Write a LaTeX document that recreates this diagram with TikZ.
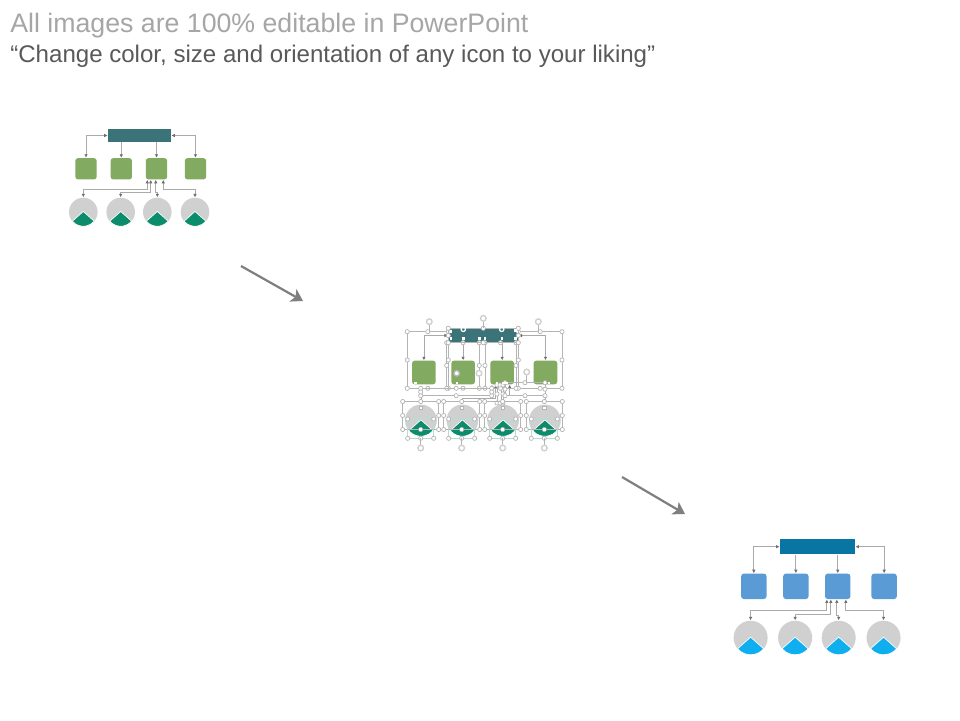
\documentclass[tikz,border=0pt]{standalone}
\usepackage{fontspec}
\setmainfont{Liberation Sans}
\usetikzlibrary{arrows.meta, calc}
\definecolor{slideGray}{RGB}{166,166,166}
\definecolor{slideDark}{RGB}{89,89,89}
\definecolor{shapeGray}{RGB}{208,208,208}
\definecolor{lineGray}{RGB}{170,170,170}
\definecolor{tipGray}{RGB}{110,110,110}
\definecolor{flowGray}{RGB}{127,127,127}
\definecolor{handleGray}{RGB}{180,180,180}
\definecolor{tealBar}{RGB}{58,116,120}
\definecolor{greenBox}{RGB}{130,170,96}
\definecolor{greenWedge}{RGB}{11,140,108}
\definecolor{blueBar}{RGB}{8,117,163}
\definecolor{blueBox}{RGB}{91,155,213}
\definecolor{blueWedge}{RGB}{15,174,239}
\tikzset{
    slide/.style={x=0.02cm, y=0.02cm},
    headbox/.style={minimum width=1.26cm, minimum height=0.26cm, inner sep=0pt, transform shape},
    itembox/.style={rounded corners=1.5pt, minimum size=0.426cm, inner sep=0pt, transform shape},
    disc/.style={circle, fill=shapeGray, minimum size=0.572cm, inner sep=0pt, transform shape},
    link/.style={{Latex[length=2pt,width=2pt,tipGray]}-{Latex[length=2pt,width=2pt,tipGray]}, line width=0.45pt, draw=lineGray},
    drop/.style={link, {}-{Latex[length=2pt,width=2pt,tipGray]}},
    flow/.style={-{Stealth[inset=1.6pt,length=6.5pt,width=8pt]}, line width=1.25pt, draw=flowGray},
    title/.style={anchor=base west, inner sep=0pt},
    selline/.style={draw=handleGray, line width=0.4pt},
    handle/.style={draw=handleGray, line width=0.4pt, fill=white},
    grip/.style={fill=white},
}
% one chart: name, centre of the bar, scale, three colours
\newcommand{\orgtree}[7]{
\begin{scope}[shift={(#2,#3)}, scale=#4]
    \node[headbox, fill=#5] (#1bar) at (0,0) {};
    \foreach \n/\x in {1/-53.5, 2/-18.2, 3/17, 4/56}{
        \node[itembox, fill=#6] (#1b\n) at (\x,-33.3) {};
    }
    \foreach \n/\x in {1/-56.2, 2/-18.8, 3/17.8, 4/55.5}{
        \node[disc] (#1c\n) at (\x,-76.5) {};
        \fill[#7, draw=white, line width=0.4pt] ($(#1c\n.center)+(0,0.5)$) -- ++(-10.95,-9.7)
            arc (220:320:14.3) -- cycle;
    }
    \draw[link] (#1bar.west) -| (#1b1.north);
    \draw[link] (#1bar.east) -| (#1b4.north);
    \draw[drop] (#1b2.north |- #1bar.south) -- (#1b2.north);
    \draw[drop] (#1b3.north |- #1bar.south) -- (#1b3.north);
    \coordinate (#1t1) at ($(#1b3.south)+(-9.2,0)$);
    \coordinate (#1t2) at ($(#1b3.south)+(-5.8,0)$);
    \coordinate (#1t3) at ($(#1b3.south)+(-0.8,0)$);
    \coordinate (#1t4) at ($(#1b3.south)+(6.8,0)$);
    \draw[link] (#1t1) -- ++(0,-9.3) -| (#1c1.north);
    \draw[link] (#1t2) -- ++(0,-12.7) -| (#1c2.north);
    \draw[link] (#1t3) -- ++(0,-13) -| (#1c3.north);
    \draw[link] (#1t4) -- ++(0,-9.3) -| (#1c4.north);
\end{scope}
}
% frame with its eight grips
\newcommand{\selbox}[4]{
    \draw[selline] ({#1},{-(#2)}) rectangle ({#3},{-(#4)});
    \foreach \hx in {#1,(#1+#3)/2,#3}{
        \draw[handle] ({\hx},{-(#2)}) circle (2.1);
        \draw[handle] ({\hx},{-(#4)}) circle (2.1);
    }
    \draw[handle] ({#1},{-(#2+#4)/2}) circle (2.1);
    \draw[handle] ({#3},{-(#2+#4)/2}) circle (2.1);
}
\newcommand{\turngrip}[3]{
    \draw[selline] (#1,-#2) -- (#1,-#3);
    \draw[handle, draw=shapeGray, line width=0.8pt] (#1,-#2) circle (2.8);
}

\begin{document}
\begin{tikzpicture}[slide]
\useasboundingbox (0,0) rectangle (960,-720);
\fill[white] (0,0) rectangle (960,-720);

% Titles
\node[title, text=slideGray, font=\fontsize{15.2pt}{18pt}\selectfont] (headline) at (10,-32)
    {All images are 100\% editable in PowerPoint};
\node[title, text=slideDark, font=\fontsize{13.7pt}{16pt}\selectfont] (subline) at (10,-62)
    {“Change color, size and orientation of any icon to your liking”};

% Charts
\orgtree{l}{139.5}{-135.5}{1}{tealBar}{greenBox}{greenWedge}
\orgtree{m}{483.3}{-335.5}{1.11}{tealBar}{greenBox}{greenWedge}
\orgtree{r}{817.5}{-546.7}{1.19}{blueBar}{blueBox}{blueWedge}

% Arrows between the charts
\coordinate (flowAa) at (241,-266);
\coordinate (flowAb) at (303,-301);
\coordinate (flowBa) at (622,-477);
\coordinate (flowBb) at (685,-514);
\draw[flow] (flowAa) -- (flowAb);
\draw[flow] (flowBa) -- (flowBb);

% Selection frames on the middle chart
\selbox{407.3}{331.7}{448.3}{388.3}
\selbox{518.3}{331.7}{562}{388.3}
\selbox{446.7}{342.7}{479.3}{388.3}
\selbox{485}{342.7}{516}{388.3}
\selbox{420.7}{388.3}{491.7}{395.7}
\selbox{497}{385}{503}{403}
\selbox{505}{382.7}{545}{395.7}
\selbox{448.3}{328.3}{518.3}{342.7}
\turngrip{429.3}{321.7}{331.7}
\turngrip{538.3}{321.7}{331.7}
\turngrip{483.3}{318.3}{328.3}
\turngrip{526.7}{372}{382.7}
\turngrip{479}{373.3}{382.7}
\draw[handle, line width=0.8pt] (456.7,-373.3) circle (2.8);
\foreach \gx/\gy in {463.3/329.3, 501.7/329.3}{
    \draw[draw=white, line width=0.7pt] (\gx,-\gy) circle (2.2);
}
\foreach \cx in {420.7, 461.7, 502.7, 544.3}{
    \selbox{\cx-18}{401.5}{\cx+18}{429.5}
    \draw[draw=greenWedge!30, line width=0.35pt] ({\cx-13},-419) rectangle ({\cx+13},-438.3);
    \foreach \hx in {-13,13}{
        \draw[handle] ({\cx+\hx},-438.3) circle (2.1);
        \draw[handle] ({\cx+\hx},-419) circle (2.1);
    }
    \draw[handle] (\cx,-438.3) circle (2.1);
    \turngrip{\cx}{448}{438.3}
    \fill[grip] ({\cx-1.6},-431) rectangle ({\cx+1.6},-427.8);
    \fill[grip, draw=handleGray, line width=0.3pt] ({\cx-1.6},-409.2) rectangle ({\cx+1.6},-406);
}
% End points of the connectors
\foreach \gx/\gy in {451/331.7, 451/338.3, 463.3/338.3, 479.3/338.3, 485/338.3, 502/338.3,
    515.7/330.7, 515.7/338.3, 415.7/383, 457/383, 497/383, 503/383, 507/383, 549/383}{
    \fill[grip] ({\gx-1.3},{-\gy-1.3}) rectangle ({\gx+1.3},{-\gy+1.3});
}
\end{tikzpicture}
\end{document}
